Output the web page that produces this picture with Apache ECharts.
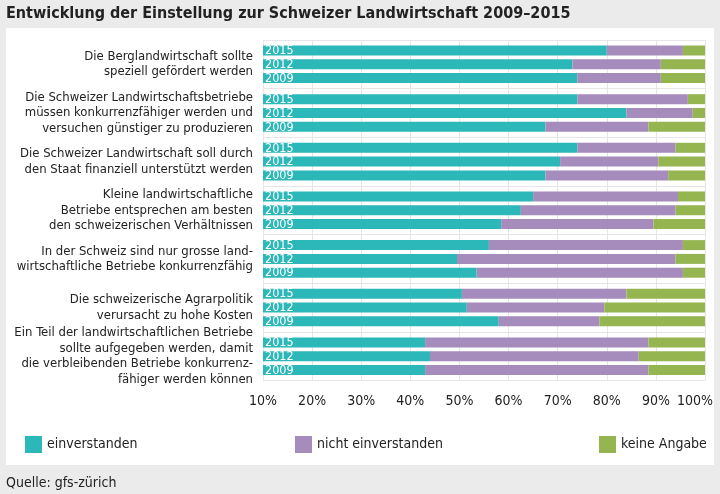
<!DOCTYPE html>
<html><head><meta charset="utf-8">
<script src="https://cdn.jsdelivr.net/npm/echarts@6/dist/echarts.min.js"></script>
<style>html,body{margin:0;padding:0;background:#ebebeb}#c{width:720px;height:494px}</style>
</head><body><div id="c"></div>
<script>
const categories = [
  "Die Berglandwirtschaft sollte\nspeziell gefördert werden",
  "Die Schweizer Landwirtschaftsbetriebe\nmüssen konkurrenzfähiger werden und\nversuchen günstiger zu produzieren",
  "Die Schweizer Landwirtschaft soll durch\nden Staat finanziell unterstützt werden",
  "Kleine landwirtschaftliche\nBetriebe entsprechen am besten\nden schweizerischen Verhältnissen",
  "In der Schweiz sind nur grosse land-\nwirtschaftliche Betriebe konkurrenzfähig",
  "Die schweizerische Agrarpolitik\nverursacht zu hohe Kosten",
  "Ein Teil der landwirtschaftlichen Betriebe\nsollte aufgegeben werden, damit\ndie verbleibenden Betriebe konkurrenz-\nfähiger werden können"
];
const years = ["2015", "2012", "2009"];
const segments = ["einverstanden", "nicht einverstanden", "keine Angabe"];
const einverstanden = {
  "2015": [80, 74, 74, 65, 56, 50.5, 43],
  "2012": [73, 84, 70.5, 62.5, 49.5, 51.5, 44],
  "2009": [74, 67.5, 67.5, 58.5, 53.5, 58, 43]
};
const nichtEinverstanden = {
  "2015": [15.5, 22.5, 20, 29.5, 39.5, 33.5, 45.5],
  "2012": [18, 13.5, 20, 31.5, 44.5, 28, 42.5],
  "2009": [17, 21, 25, 31, 42, 20.5, 45.5]
};
const keineAngabe = {
  "2015": [4.5, 3.5, 6, 5.5, 4.5, 16, 11.5],
  "2012": [9, 2.5, 9.5, 6, 6, 20.5, 13.5],
  "2009": [9, 11.5, 7.5, 10.5, 4.5, 21.5, 11.5]
};
const xTicks = [10, 20, 30, 40, 50, 60, 70, 80, 90, 100];

const colors = ["#2cb7b9", "#a68bbd", "#95b550"];
const FONT = '"Liberation Sans Narrow", "DejaVu Sans Condensed", "Open Sans", sans-serif';
const dataSets = [einverstanden, nichtEinverstanden, keineAngabe];

const series = [];
years.forEach(function (yr) {
  segments.forEach(function (seg, si) {
    const s = {
      name: seg,
      type: 'bar',
      stack: 'y' + yr,
      data: dataSets[si][yr],
      barWidth: 10,
      barGap: '38%',
      itemStyle: { color: colors[si] },
      emphasis: { disabled: true }
    };
    if (si === 0) {
      s.label = {
        show: true, position: [2, -1], formatter: yr,
        color: '#fff', fontSize: 12.5, fontFamily: FONT
      };
    }
    series.push(s);
  });
});

const legendText = { fontSize: 14, color: '#222', fontFamily: FONT };
const chart = echarts.init(document.getElementById('c'), null, { renderer: 'canvas' });
chart.setOption({
  animation: false,
  backgroundColor: '#ebebeb',
  textStyle: { fontFamily: FONT },
  graphic: [
    { type: 'rect', z: -10, shape: { x: 6, y: 28, width: 708, height: 437 }, style: { fill: '#ffffff' } },
    { type: 'text', left: 6, top: 6, style: { text: 'Entwicklung der Einstellung zur Schweizer Landwirtschaft 2009–2015', font: 'bold 16px ' + FONT, fill: '#222' } },
    { type: 'text', left: 6, top: 476, style: { text: 'Quelle: gfs-zürich', font: '14px ' + FONT, fill: '#222' } }
  ],
  legend: [
    { data: ['einverstanden'], left: 20, top: 431, itemWidth: 17, itemHeight: 17, itemGap: 10, textStyle: legendText, icon: 'rect', selectedMode: false },
    { data: ['nicht einverstanden'], left: 290, top: 431, itemWidth: 17, itemHeight: 17, textStyle: legendText, icon: 'rect', selectedMode: false },
    { data: ['keine Angabe'], left: 594, top: 431, itemWidth: 17, itemHeight: 17, textStyle: legendText, icon: 'rect', selectedMode: false }
  ],
  grid: { left: 263, right: 15, top: 40, bottom: 113.5, containLabel: false },
  xAxis: {
    type: 'value', min: 10, max: 100, interval: 10,
    axisLine: { show: false }, axisTick: { show: false },
    splitLine: { show: true, lineStyle: { color: '#e6e6e6', width: 1 } },
    axisLabel: {
      showMaxLabel: true, hideOverlap: false,
      formatter: function (v) { return v === 100 ? '{r|' + v + '%}' : v + '%'; },
      rich: { r: { fontSize: 14, color: '#222', fontFamily: FONT, padding: [0, 20, 0, 0] } },
      fontSize: 14, color: '#222', margin: 14, fontFamily: FONT
    }
  },
  yAxis: {
    type: 'category', data: categories, inverse: true,
    axisLine: { show: false }, axisTick: { show: false },
    splitLine: { show: true, lineStyle: { color: '#e6e6e6', width: 1 } },
    axisLabel: { fontSize: 13, lineHeight: 15.5, color: '#222', margin: 10, align: 'right', fontFamily: FONT }
  },
  series: series
});
</script></body></html>
